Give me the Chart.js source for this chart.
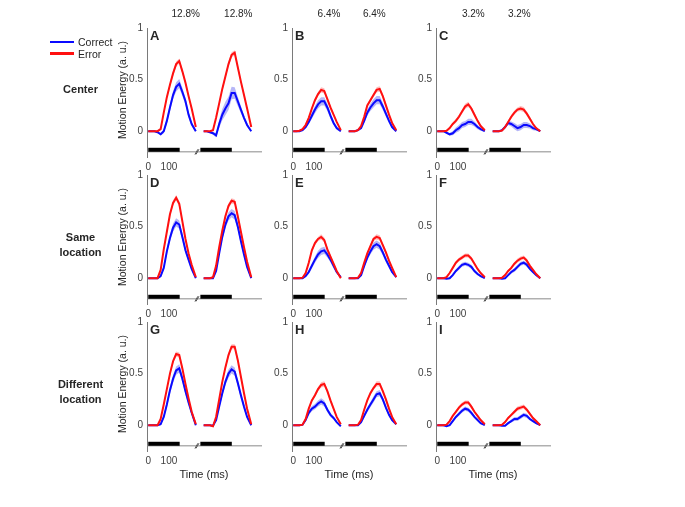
<!DOCTYPE html>
<html><head><meta charset="utf-8">
<script src="https://cdn.jsdelivr.net/npm/chart.js@4.4.1/dist/chart.umd.min.js"></script>
<style>
body{margin:0;background:#fff;}
#wrap{position:relative;width:685px;height:507px;overflow:hidden;font-family:"Liberation Sans",Arial,Helvetica,sans-serif;color:#262626;}
canvas{position:absolute;}
.lbl{position:absolute;white-space:nowrap;line-height:1;}
</style></head><body><div id="wrap"></div>
<script>
// ---------- data ----------
const relTime = [0,15,30,45,60,75,90,105,120,135,150,165,180,195,210,230]; // ms within a segment
const segOffsets = [0, 268];          // ms, start of each plotted segment
const stimBars = [[0,152],[252,404]]; // ms, black stimulus bars
const breakMarks = [233, 238];        // ms, axis-break "//"
const xTicks = [0,100];
const xTickLabels = ['0','100'];
const yTicks = [0,0.5,1];
const yTickLabels = ['0','0.5','1'];
const coherence = ['12.8%','6.4%','3.2%'];
const rowLabels = [['Center'],['Same','location'],['Different','location']];
const legendLabels = ['Correct','Error'];

const A_correct1 = [0,0,0,-0.01,-0.03,0.00,0.10,0.23,0.35,0.43,0.46,0.38,0.29,0.16,0.07,0.00];
const A_error1   = [0,0,0,0.00,0.02,0.18,0.33,0.45,0.56,0.65,0.68,0.58,0.47,0.34,0.22,0.04];
const A_correct2 = [0,0,-0.01,-0.02,-0.04,0.07,0.16,0.22,0.27,0.37,0.37,0.29,0.21,0.13,0.06,0.00];
const A_error2   = [0,0,0,0.01,0.13,0.27,0.41,0.53,0.65,0.74,0.76,0.62,0.48,0.35,0.22,0.04];
const A_corSem   = [.004,.004,.005,.008,.012,.02,.03,.035,.04,.045,.045,.04,.035,.03,.02,.01];
const A_corSem2  = [.004,.005,.008,.015,.02,.04,.055,.065,.065,.06,.055,.045,.035,.025,.02,.01];
const A_errSem   = [.003,.003,.003,.005,.01,.015,.02,.02,.025,.025,.025,.025,.02,.02,.015,.01];

const B_correct1 = [0,0,0,0.01,0.04,0.09,0.15,0.21,0.26,0.29,0.29,0.23,0.15,0.08,0.03,0.00];
const B_error1   = [0,0,0.005,0.02,0.06,0.13,0.22,0.30,0.36,0.40,0.39,0.31,0.23,0.16,0.09,0.01];
const B_correct2 = [0,0,0,0.01,0.03,0.10,0.18,0.23,0.27,0.30,0.30,0.24,0.17,0.10,0.04,0.00];
const B_error2   = [0,0,0,0.01,0.05,0.14,0.25,0.30,0.35,0.40,0.41,0.34,0.25,0.16,0.08,0.01];
const B_corSem   = [.003,.003,.004,.006,.01,.02,.03,.035,.04,.04,.04,.035,.03,.02,.015,.008];
const B_errSem   = [.003,.003,.004,.005,.008,.012,.015,.02,.02,.025,.025,.02,.02,.015,.01,.008];

const C_correct1 = [0,0,0,-0.015,-0.03,-0.02,0.01,0.03,0.06,0.07,0.09,0.09,0.07,0.04,0.02,0.00];
const C_error1   = [0,0,0,0.005,0.03,0.07,0.10,0.14,0.19,0.24,0.26,0.22,0.16,0.10,0.05,0.01];
const C_correct2 = [0,0,0,0.01,0.04,0.08,0.07,0.05,0.03,0.04,0.06,0.06,0.05,0.03,0.02,0.00];
const C_error2   = [0,0,0,0.005,0.04,0.09,0.14,0.18,0.21,0.22,0.21,0.17,0.12,0.07,0.03,0.00];
const C_corSem   = [.003,.003,.004,.008,.012,.02,.025,.03,.03,.03,.03,.03,.025,.02,.015,.008];
const C_errSem   = [.003,.003,.004,.006,.01,.015,.02,.02,.02,.025,.025,.02,.02,.015,.01,.008];

const D_correct1 = [0,0,0,0,0.02,0.10,0.26,0.39,0.49,0.54,0.52,0.40,0.27,0.18,0.09,0.00];
const D_error1   = [0,0,0,0,0.08,0.28,0.45,0.62,0.73,0.78,0.72,0.55,0.38,0.24,0.13,0.01];
const D_correct2 = [0,0,0,0,0.07,0.24,0.40,0.52,0.60,0.63,0.61,0.50,0.36,0.23,0.11,0.00];
const D_error2   = [0,0,0,0.01,0.12,0.30,0.46,0.60,0.70,0.75,0.74,0.60,0.45,0.30,0.16,0.01];
const D_corSem   = [.003,.003,.003,.005,.01,.02,.03,.035,.04,.04,.04,.035,.03,.025,.02,.01];
const D_errSem   = [.003,.003,.003,.005,.01,.015,.02,.02,.025,.025,.025,.025,.02,.02,.015,.01];

const E_correct1 = [0,0,0,0,0.02,0.06,0.12,0.18,0.23,0.26,0.27,0.23,0.18,0.12,0.06,0.01];
const E_error1   = [0,0,0,0.005,0.05,0.15,0.27,0.34,0.38,0.40,0.37,0.28,0.21,0.14,0.07,0.00];
const E_correct2 = [0,0,0,0,0.03,0.12,0.20,0.26,0.31,0.33,0.31,0.25,0.18,0.12,0.06,0.01];
const E_error2   = [0,0,0,0.005,0.05,0.15,0.24,0.31,0.38,0.40,0.39,0.32,0.25,0.17,0.10,0.01];
const E_corSem   = [.003,.003,.003,.005,.01,.02,.025,.03,.035,.035,.035,.03,.025,.02,.015,.008];
const E_errSem   = [.003,.003,.004,.005,.008,.012,.015,.02,.02,.025,.025,.02,.02,.015,.01,.008];

const F_correct1 = [0,0,0,-0.005,0.00,0.03,0.07,0.10,0.13,0.14,0.13,0.11,0.07,0.04,0.02,0.00];
const F_error1   = [0,0,0,0.01,0.05,0.10,0.15,0.18,0.20,0.22,0.22,0.19,0.14,0.09,0.05,0.01];
const F_correct2 = [0,0,0,-0.005,0.00,0.03,0.06,0.08,0.11,0.14,0.15,0.13,0.09,0.06,0.03,0.00];
const F_error2   = [0,0,0,0.005,0.03,0.07,0.10,0.14,0.17,0.19,0.20,0.17,0.12,0.08,0.04,0.00];
const F_corSem   = [.003,.003,.003,.005,.008,.012,.015,.02,.02,.02,.02,.02,.015,.012,.01,.006];
const F_errSem   = [.003,.003,.003,.005,.008,.012,.015,.018,.02,.02,.02,.02,.015,.012,.01,.006];

const G_correct1 = [0,0,0,0,0.01,0.08,0.20,0.34,0.45,0.53,0.55,0.45,0.33,0.22,0.12,0.00];
const G_error1   = [0,0,0,0,0.06,0.20,0.35,0.50,0.62,0.69,0.68,0.55,0.40,0.26,0.13,0.01];
const G_correct2 = [0,0,0,-0.005,0.05,0.18,0.31,0.42,0.50,0.54,0.52,0.41,0.29,0.18,0.08,0.00];
const G_error2   = [0,0,0,-0.01,0.08,0.25,0.42,0.56,0.68,0.76,0.76,0.63,0.47,0.31,0.16,0.01];
const G_corSem   = [.003,.003,.003,.005,.01,.02,.03,.035,.04,.04,.04,.035,.03,.025,.02,.01];
const G_errSem   = [.003,.003,.003,.005,.01,.015,.02,.02,.025,.025,.025,.025,.02,.02,.015,.01];

const H_correct1 = [0,0,0,0.005,0.05,0.12,0.16,0.18,0.21,0.23,0.21,0.15,0.10,0.07,0.03,-0.01];
const H_error1   = [0,0,0,0.005,0.06,0.16,0.24,0.29,0.35,0.39,0.40,0.33,0.24,0.16,0.08,0.01];
const H_correct2 = [0,0,0,0,0.03,0.09,0.15,0.20,0.25,0.30,0.31,0.25,0.17,0.10,0.05,0.01];
const H_error2   = [0,0,0,0.005,0.05,0.15,0.24,0.31,0.36,0.40,0.40,0.33,0.25,0.16,0.08,0.01];
const H_corSem   = [.003,.003,.003,.005,.01,.02,.025,.025,.03,.03,.03,.025,.02,.015,.01,.008];
const H_errSem   = [.003,.003,.004,.005,.008,.012,.015,.02,.02,.025,.025,.02,.02,.015,.01,.008];

const I_correct1 = [0,0,0,-0.01,0.00,0.04,0.08,0.11,0.14,0.16,0.15,0.12,0.08,0.05,0.02,0.00];
const I_error1   = [0,0,0,0.005,0.04,0.09,0.13,0.17,0.20,0.22,0.22,0.18,0.13,0.09,0.05,0.01];
const I_correct2 = [0,0,0,-0.005,-0.005,0.02,0.04,0.06,0.06,0.08,0.10,0.09,0.06,0.04,0.02,0.00];
const I_error2   = [0,0,0,0.005,0.03,0.07,0.10,0.13,0.16,0.17,0.18,0.15,0.11,0.07,0.04,0.00];
const I_corSem   = [.003,.003,.003,.005,.008,.012,.015,.02,.02,.02,.02,.02,.015,.012,.01,.006];
const I_errSem   = [.003,.003,.003,.005,.008,.012,.015,.018,.02,.02,.02,.02,.015,.012,.01,.006];

const panels = [
  {letter:'A', cor:[A_correct1,A_correct2], err:[A_error1,A_error2], cs:[A_corSem,A_corSem2], es:[A_errSem,A_errSem]},
  {letter:'B', cor:[B_correct1,B_correct2], err:[B_error1,B_error2], cs:[B_corSem,B_corSem], es:[B_errSem,B_errSem]},
  {letter:'C', cor:[C_correct1,C_correct2], err:[C_error1,C_error2], cs:[C_corSem,C_corSem], es:[C_errSem,C_errSem]},
  {letter:'D', cor:[D_correct1,D_correct2], err:[D_error1,D_error2], cs:[D_corSem,D_corSem], es:[D_errSem,D_errSem]},
  {letter:'E', cor:[E_correct1,E_correct2], err:[E_error1,E_error2], cs:[E_corSem,E_corSem], es:[E_errSem,E_errSem]},
  {letter:'F', cor:[F_correct1,F_correct2], err:[F_error1,F_error2], cs:[F_corSem,F_corSem], es:[F_errSem,F_errSem]},
  {letter:'G', cor:[G_correct1,G_correct2], err:[G_error1,G_error2], cs:[G_corSem,G_corSem], es:[G_errSem,G_errSem]},
  {letter:'H', cor:[H_correct1,H_correct2], err:[H_error1,H_error2], cs:[H_corSem,H_corSem], es:[H_errSem,H_errSem]},
  {letter:'I', cor:[I_correct1,I_correct2], err:[I_error1,I_error2], cs:[I_corSem,I_corSem], es:[I_errSem,I_errSem]}
];

// ---------- layout ----------
const FONT = '"Liberation Sans", Arial, Helvetica, sans-serif';
const colLeft = [147, 292, 436];
const rowTop = [26, 173, 320];
const areaW = 115, areaH = 131, padTop = 8, padRight = 5, yAxisW = 30, xAxisH = 20;
const X_MIN = -6, X_MAX = 550, Y_MIN = -0.25, Y_MAX = 1;
const BAR_Y = -0.18, BASE_Y = -0.2;
const BLUE = '#0a0aff', RED = '#ff1010';
const wrap = document.getElementById('wrap');

function label(text, x, y, opts) {
  opts = opts || {};
  const d = document.createElement('div');
  d.className = 'lbl';
  d.textContent = text;
  d.style.left = x + 'px';
  d.style.top = y + 'px';
  d.style.fontSize = (opts.size || 10) + 'px';
  if (opts.bold) d.style.fontWeight = 'bold';
  d.style.transform = opts.transform || 'translate(-50%,-50%)';
  wrap.appendChild(d);
  return d;
}

function pts(vals, off, sem, sign) {
  return relTime.map((t, i) => ({x: t + off, y: vals[i] + (sem ? sign * sem[i] : 0)}));
}

panels.forEach((p, k) => {
  const r = Math.floor(k / 3), c = k % 3;
  const cv = document.createElement('canvas');
  const W = yAxisW + areaW + padRight, H = padTop + areaH + xAxisH;
  cv.width = W; cv.height = H;
  cv.style.width = W + 'px'; cv.style.height = H + 'px';
  cv.style.left = (colLeft[c] - yAxisW) + 'px';
  cv.style.top = (rowTop[r] - padTop) + 'px';
  wrap.appendChild(cv);

  const ds = [];
  segOffsets.forEach((off, s) => {
    ds.push({data: pts(p.err[s], off, p.es[s], 1), fill: '+1', backgroundColor: 'rgba(255,80,80,0.38)', borderColor: 'rgba(0,0,0,0)', borderWidth: 0, pointRadius: 0, order: 2});
    ds.push({data: pts(p.err[s], off, p.es[s], -1), fill: false, borderColor: 'rgba(0,0,0,0)', borderWidth: 0, pointRadius: 0, order: 2});
    ds.push({data: pts(p.cor[s], off, p.cs[s], 1), fill: '+1', backgroundColor: 'rgba(80,80,235,0.42)', borderColor: 'rgba(0,0,0,0)', borderWidth: 0, pointRadius: 0, order: 3});
    ds.push({data: pts(p.cor[s], off, p.cs[s], -1), fill: false, borderColor: 'rgba(0,0,0,0)', borderWidth: 0, pointRadius: 0, order: 3});
    ds.push({data: pts(p.cor[s], off, null, 0), fill: false, borderColor: BLUE, borderWidth: 2, pointRadius: 0, order: 1});
    ds.push({data: pts(p.err[s], off, null, 0), fill: false, borderColor: RED, borderWidth: 2, pointRadius: 0, order: 0});
  });
  stimBars.forEach(b => {
    ds.push({data: [{x: b[0], y: BAR_Y}, {x: b[1], y: BAR_Y}], borderColor: '#000', borderWidth: 4, borderCapStyle: 'butt', pointRadius: 0, fill: false, order: 4});
  });
  ds.push({data: [{x: X_MIN, y: BASE_Y}, {x: X_MAX, y: BASE_Y}], borderColor: '#8a8a8a', borderWidth: 1, pointRadius: 0, fill: false, order: 5});
  ds.push({data: breakMarks.map(x => ({x: x, y: BASE_Y})), showLine: false, pointStyle: 'line', pointRadius: 3, pointRotation: 120, pointBorderColor: '#555', pointBorderWidth: 1, order: 4});

  new Chart(cv, {
    type: 'line',
    data: {datasets: ds},
    options: {
      responsive: false, animation: false, devicePixelRatio: 1,
      layout: {padding: {top: padTop, right: padRight, left: 0, bottom: 0}},
      plugins: {legend: {display: false}, tooltip: {enabled: false}},
      elements: {line: {tension: 0}},
      scales: {
        x: {
          type: 'linear', min: X_MIN, max: X_MAX,
          grid: {display: false, drawTicks: false}, border: {display: false},
          ticks: {font: {size: 10, family: FONT}, color: '#404040', padding: 4, maxRotation: 0, autoSkip: false,
                  callback: (v, i) => xTickLabels[i]},
          afterBuildTicks: a => { a.ticks = xTicks.map(v => ({value: v})); },
          afterFit: a => { a.height = xAxisH; }
        },
        y: {
          type: 'linear', min: Y_MIN, max: Y_MAX,
          grid: {display: false, drawTicks: false}, border: {display: true, color: '#7a7a7a', width: 1},
          ticks: {font: {size: 10, family: FONT}, color: '#404040', padding: 4,
                  callback: (v, i) => yTickLabels[i]},
          afterBuildTicks: a => { a.ticks = yTicks.map(v => ({value: v})); },
          afterFit: a => { a.width = yAxisW; }
        }
      }
    }
  });

  // panel letter
  label(p.letter, colLeft[c] + 3, rowTop[r] + 8.5, {size: 13, bold: true, transform: 'translate(0,-50%)'});
});

// coherence labels
const cohX = [[185.7, 238.3], [329, 374.3], [473.3, 519.3]];
cohX.forEach((xs, c) => xs.forEach(x => label(coherence[c], x, 14, {size: 10})));

// row labels
const rowLabelY = [[89], [237, 252], [384, 399]];
rowLabels.forEach((lines, r) => lines.forEach((t, j) => label(t, 80.5, rowLabelY[r][j], {size: 11, bold: true})));

// y-axis titles
rowTop.forEach(t => label('Motion Energy (a. u.)', 122, t + 64, {size: 10.5, transform: 'translate(-50%,-50%) rotate(-90deg)'}));

// x-axis titles
colLeft.forEach(l => label('Time (ms)', l + 57, 474, {size: 11}));

// legend
[[BLUE, 42], [RED, 53.5]].forEach((it, i) => {
  const ln = document.createElement('div');
  ln.style.cssText = 'position:absolute;left:50px;width:24px;height:2.5px;background:' + it[0] + ';top:' + (it[1] - 1.25) + 'px';
  wrap.appendChild(ln);
  label(legendLabels[i], 78, it[1], {size: 10.5, transform: 'translate(0,-50%)'});
});
</script></body></html>
